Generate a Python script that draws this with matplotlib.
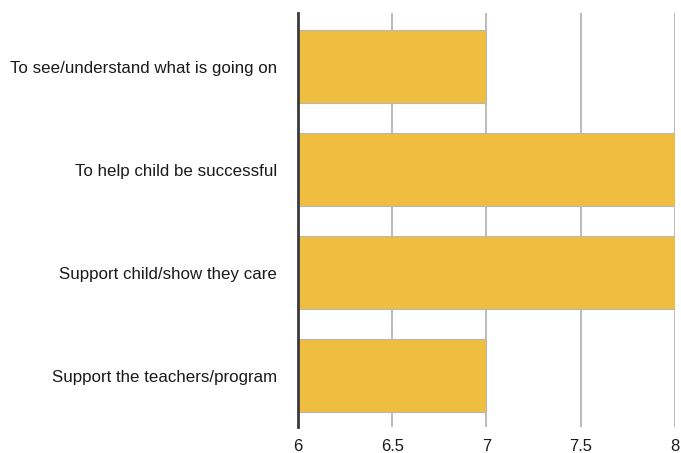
import matplotlib.pyplot as plt
import numpy as np

plt.rcParams['font.family'] = ['Liberation Sans', 'DejaVu Sans']

# reasons given, top to bottom
reasons = ['To see/understand what is going on',
           'To help child be successful',
           'Support child/show they care',
           'Support the teachers/program']
scores = [7, 8, 8, 7]
xticks = [6, 6.5, 7, 7.5, 8]
xtick_labels = ['6', '6.5', '7', '7.5', '8']

fig = plt.figure(figsize=(6.81, 4.53), dpi=100)
ax = fig.add_axes([0.4376, 0.0574, 0.5535, 0.9139])

y = np.arange(len(reasons))
ax.barh(y, np.array(scores) - 6, left=6, height=0.716, color='#EFBD40',
        edgecolor='#B8B8B8', linewidth=0.8, zorder=3)

ax.set_xlim(6, 8)
ax.set_ylim(len(reasons) - 0.5, -0.52)
ax.set_xticks(xticks)
ax.set_xticklabels(xtick_labels)
ax.set_yticks(y)
ax.set_yticklabels(reasons)

# vertical grid only, dark baseline at 6
for xv in xticks[1:]:
    ax.axvline(xv, color='#B5B5B5', linewidth=1.3, zorder=1)
for s in ['top', 'right', 'bottom']:
    ax.spines[s].set_visible(False)
ax.spines['left'].set_color('#3A3A3A')
ax.spines['left'].set_linewidth(2)
ax.spines['left'].set_zorder(4)

ax.tick_params(axis='y', length=0, pad=15, labelsize=12.2, labelcolor='#1A1A1A')
ax.tick_params(axis='x', length=0, pad=9, labelsize=12, labelcolor='#1A1A1A')

fig.savefig('out.png', dpi=100)
